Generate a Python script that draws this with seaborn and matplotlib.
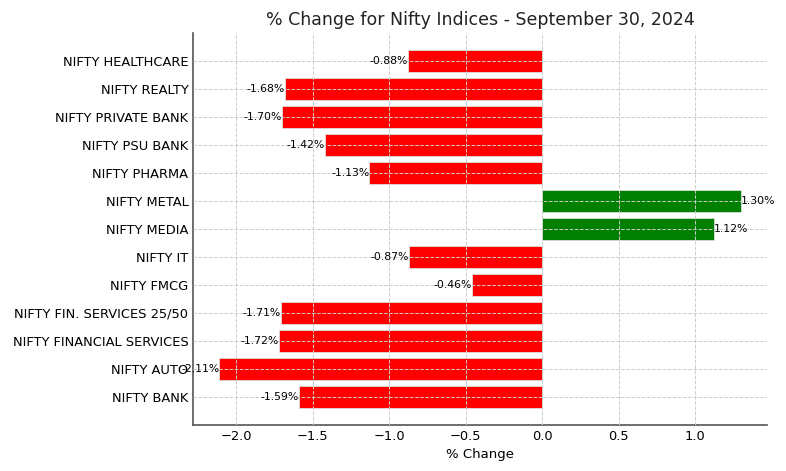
import matplotlib
matplotlib.use("Agg")
import matplotlib.pyplot as plt
import pandas as pd
import seaborn as sns

indices = [
    "NIFTY HEALTHCARE", "NIFTY REALTY", "NIFTY PRIVATE BANK", "NIFTY PSU BANK",
    "NIFTY PHARMA", "NIFTY METAL", "NIFTY MEDIA", "NIFTY IT", "NIFTY FMCG",
    "NIFTY FIN. SERVICES 25/50", "NIFTY FINANCIAL SERVICES", "NIFTY AUTO", "NIFTY BANK",
]
changes = [-0.88, -1.68, -1.70, -1.42, -1.13, 1.30, 1.12, -0.87, -0.46, -1.71, -1.72, -2.11, -1.59]

df = pd.DataFrame({"Index": indices, "Change": changes})
df["Sign"] = ["up" if c > 0 else "down" for c in changes]

sns.set_style("white")
plt.rcParams["font.family"] = ["DejaVu Sans"]
plt.rcParams["text.color"] = "black"
plt.rcParams["axes.labelcolor"] = "black"
plt.rcParams["xtick.color"] = "black"
plt.rcParams["ytick.color"] = "black"

fig, ax = plt.subplots(figsize=(7.86, 4.71), dpi=100)
sns.barplot(
    data=df, x="Change", y="Index", hue="Sign", orient="h",
    palette={"up": "green", "down": "red"}, dodge=False, legend=False,
    width=0.8, saturation=1, edgecolor="#dddddd", linewidth=0.6, ax=ax,
)

# Etiquetas al final de cada barra
for i, c in enumerate(changes):
    ax.text(c, i, f"{c:.2f}%", va="center", ha="left" if c > 0 else "right",
            fontsize=7.8, color="black")

ax.set_xlim(-2.28, 1.47)
ax.set_ylim(13, -1)
ax.set_title("% Change for Nifty Indices - September 30, 2024", fontsize=12.5, color="#222222")
ax.set_xlabel("% Change", fontsize=9.5)
ax.set_ylabel("")
ax.tick_params(axis="both", direction="in", labelsize=9.4, length=3, color="#555555",
               labelcolor="black")
ax.grid(True, linestyle="--", color="#cccccc", linewidth=0.7)
ax.set_axisbelow(False)
sns.despine(ax=ax)
for s in ["left", "bottom"]:
    ax.spines[s].set_color("#555555")
    ax.spines[s].set_linewidth(1.2)

fig.subplots_adjust(left=0.246, right=0.976, top=0.93, bottom=0.098)
fig.savefig("out.png", dpi=100)
plt.close(fig)
